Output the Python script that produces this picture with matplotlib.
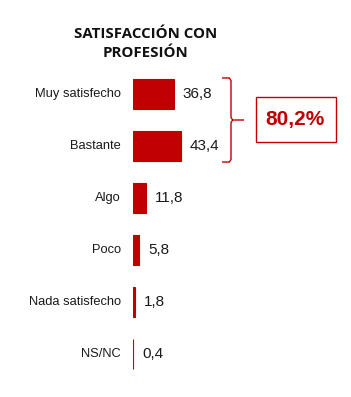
import matplotlib.pyplot as plt
from matplotlib.path import Path
from matplotlib.patches import PathPatch

# Datos
categorias = ["Muy satisfecho", "Bastante", "Algo", "Poco", "Nada satisfecho", "NS/NC"]
valores = [36.8, 43.4, 11.8, 5.8, 1.8, 0.4]
titulo = "SATISFACCIÓN CON\nPROFESIÓN"
total_txt = "80,2%"

rojo = "#C00000"
W, H = 351, 397
fuente = ["Liberation Sans", "DejaVu Sans"]

fig = plt.figure(figsize=(W / 100, H / 100), dpi=100)
# ejes en pixeles: x desde 133, y desde 68 hasta 380
ax = fig.add_axes([133 / W, 1 - 380 / H, 218 / W, 312 / H])
ax.set_xlim(0, 218 / 1.106)
ax.set_ylim(len(categorias) - 0.5, -0.5)
ax.axis("off")

alto = 0.577
pos = list(range(len(categorias)))
ax.barh(pos, valores, height=alto, color=rojo, edgecolor=rojo, lw=0.8)

for p, v, c in zip(pos, valores, categorias):
    ax.text(v + 8, p, f"{v:.1f}".replace(".", ","), va="center", ha="left",
            fontsize=11, family=fuente, color="#1a1a1a")
    ax.text(-11, p, c, va="center", ha="right", fontsize=9.3,
            family=fuente, color="#1a1a1a")

# llave
x0, x1, x2 = 80.5, 88.6, 100.4
yt, yb = 0 - alto / 2 - 0.02, 1 + alto / 2 + 0.02
ym = (yt + yb) / 2
r = 0.05
verts = [(x0, yt), (x1 - 1.5, yt), (x1, yt + r), (x1, ym - r), (x1 + 1.5, ym), (x2, ym),
         (x1 + 1.5, ym), (x1, ym + r), (x1, yb - r), (x1 - 1.5, yb), (x0, yb)]
codes = [Path.MOVETO, Path.LINETO, Path.LINETO, Path.LINETO, Path.LINETO, Path.LINETO,
         Path.MOVETO, Path.LINETO, Path.LINETO, Path.LINETO, Path.LINETO]
ax.add_patch(PathPatch(Path(verts, codes), fill=False, edgecolor=rojo, lw=1.0,
                       clip_on=False))

# caja con total
fig.text(295 / W, 1 - 120 / H, total_txt, ha="center", va="center", fontsize=15,
         fontweight="bold", color=rojo, family=fuente)
fig.add_artist(plt.Rectangle((256 / W, 1 - 142 / H), 80 / W, 45 / H, fill=False,
                             edgecolor=rojo, lw=1.0, transform=fig.transFigure))

fig.text(146 / W, 1 - 43.5 / H, titulo, ha="center", va="center", fontsize=10.8,
         fontweight="bold", family=["Open Sans", "DejaVu Sans"], linespacing=1.5,
         color="#111111")

fig.savefig("out.png", dpi=100)
